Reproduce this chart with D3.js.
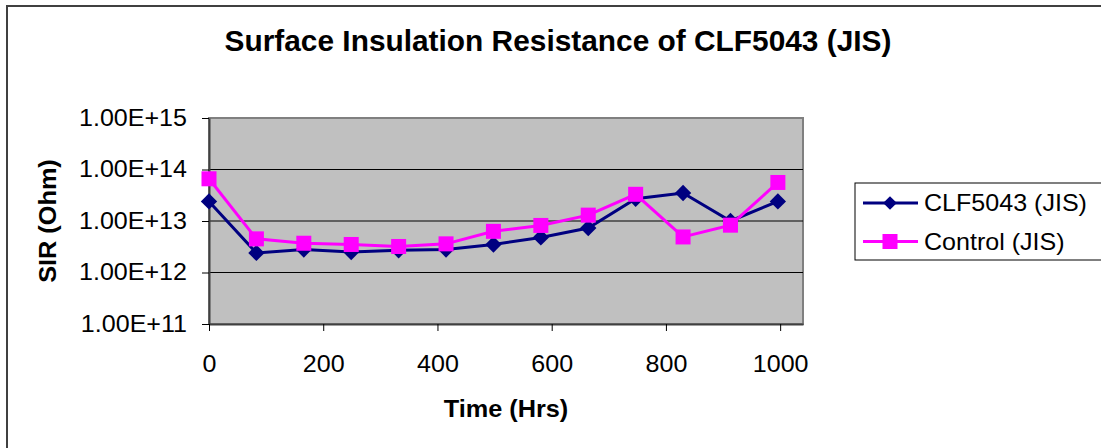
<!doctype html>
<html lang="en">
  <head>
    <meta charset="UTF-8" />
    <title>Surface Insulation Resistance of CLF5043 (JIS)</title>
    <script src="https://d3js.org/d3.v7.min.js"></script>
    <style>
      html,body{margin:0;padding:0;background:#fff;}
      svg{display:block;font-family:"Liberation Sans",Arial,Helvetica,sans-serif;}
    </style>
  </head>
  <body>
    <div id="chart"></div>
    <script>
      /* ───── data ───── */
      const hours   = [0, 83, 166, 249, 332, 415, 498, 581, 664, 747, 830, 913, 996];
      const clf5043 = [2.4e13, 2.4e12, 2.8e12, 2.5e12, 2.7e12, 2.8e12, 3.5e12, 4.8e12, 7.3e12, 2.7e13, 3.5e13, 1.0e13, 2.4e13];
      const control = [6.6e13, 4.5e12, 3.7e12, 3.5e12, 3.2e12, 3.6e12, 6.3e12, 8.2e12, 1.3e13, 3.3e13, 4.9e12, 8.3e12, 5.6e13];
      const xTicks  = [0, 200, 400, 600, 800, 1000];
      const yTicks  = [1e11, 1e12, 1e13, 1e14, 1e15];
      const seriesNames = ['CLF5043 (JIS)', 'Control (JIS)'];

      /* ───── geometry ───── */
      const W = 1101, H = 448;
      const plot = {left:209, right:803, top:118, bottom:324};
      const SX = 1.09;   // the original font runs a little wide

      const svg = d3.select('#chart').append('svg')
                    .attr('width', W).attr('height', H);

      // outer chart border (runs off the right / bottom edge)
      svg.append('rect')
         .attr('x', 7).attr('y', 6).attr('width', 1300).attr('height', 700)
         .attr('fill', '#fff').attr('stroke', '#404040').attr('stroke-width', 2);

      const x = d3.scaleLinear().domain([0, 1040]).range([plot.left, plot.right]);
      const y = d3.scaleLog().domain([1e11, 1e15]).range([plot.bottom, plot.top]);

      // stretch a text horizontally around its anchor
      function widen(sel, k = SX){
        sel.each(function(){
          const t = d3.select(this);
          const tx = +t.attr('x') || 0, ty = +t.attr('y') || 0;
          t.attr('x', 0).attr('y', 0)
           .attr('transform', `translate(${tx},${ty}) scale(${k},1)`);
        });
      }

      /* ───── plot area ───── */
      svg.append('rect')
         .attr('x', plot.left).attr('y', plot.top)
         .attr('width', plot.right - plot.left).attr('height', plot.bottom - plot.top)
         .attr('fill', '#c0c0c0').attr('stroke', '#808080').attr('stroke-width', 2);

      svg.append('g').selectAll('line')
         .data(yTicks.slice(1, -1)).join('line')
         .attr('x1', plot.left).attr('x2', plot.right)
         .attr('y1', d => y(d)).attr('y2', d => y(d))
         .attr('stroke', '#000').attr('stroke-width', 1);

      /* ───── axes ───── */
      const fmtE = d => '1.00E+' + Math.round(Math.log10(d));

      const gy = svg.append('g')
                    .attr('transform', `translate(${plot.left},0)`)
                    .call(d3.axisLeft(y).tickValues(yTicks).tickFormat(fmtE)
                            .tickSizeInner(7).tickSizeOuter(0).tickPadding(15));
      const gx = svg.append('g')
                    .attr('transform', `translate(0,${plot.bottom})`)
                    .call(d3.axisBottom(x).tickValues(xTicks).tickFormat(d3.format('d'))
                            .tickSizeInner(7).tickSizeOuter(0).tickPadding(25));

      [gx, gy].forEach(g => {
        g.select('.domain').attr('stroke', '#404040').attr('stroke-width', 2);
        g.selectAll('.tick line').attr('stroke', '#000');
        g.selectAll('.tick text').attr('fill', '#000')
         .style('font-size', '23px').call(widen);
      });

      /* ───── series ───── */
      const line = d3.line().x(d => x(d[0])).y(d => y(d[1]));
      const diamond = d3.symbol().type(d3.symbolDiamond2).size(170);

      const s1 = hours.map((h, i) => [h, clf5043[i]]);
      const s2 = hours.map((h, i) => [h, control[i]]);

      svg.append('path').attr('d', line(s1))
         .attr('fill', 'none').attr('stroke', '#000080').attr('stroke-width', 3);
      svg.append('g').selectAll('path').data(s1).join('path')
         .attr('transform', d => `translate(${x(d[0])},${y(d[1])})`)
         .attr('d', diamond).attr('fill', '#000080');

      svg.append('path').attr('d', line(s2))
         .attr('fill', 'none').attr('stroke', '#ff00ff').attr('stroke-width', 3);
      svg.append('g').selectAll('rect').data(s2).join('rect')
         .attr('x', d => x(d[0]) - 7.5).attr('y', d => y(d[1]) - 7.5)
         .attr('width', 15).attr('height', 15).attr('fill', '#ff00ff');

      /* ───── titles ───── */
      svg.append('text')
         .attr('x', 558).attr('y', 51).attr('text-anchor', 'middle')
         .style('font-size', '29px').style('font-weight', 'bold')
         .text('Surface Insulation Resistance of CLF5043 (JIS)').call(widen, 1.03);

      svg.append('text')
         .attr('x', 506).attr('y', 417).attr('text-anchor', 'middle')
         .style('font-size', '23px').style('font-weight', 'bold')
         .text('Time (Hrs)').call(widen, 1.1);

      svg.append('text')
         .attr('transform', `translate(56,221) rotate(-90) scale(1.1,1)`)
         .attr('text-anchor', 'middle')
         .style('font-size', '23px').style('font-weight', 'bold')
         .text('SIR (Ohm)');

      /* ───── legend ───── */
      const lg = svg.append('g');
      lg.append('rect')
        .attr('x', 855).attr('y', 183).attr('width', 400).attr('height', 77)
        .attr('fill', '#fff').attr('stroke', '#000').attr('stroke-width', 1);

      const rows = [203, 241.5];
      const legendDiamond = d3.symbol().type(d3.symbolDiamond2).size(120);

      lg.append('line').attr('x1', 863).attr('x2', 918).attr('y1', rows[0]).attr('y2', rows[0])
        .attr('stroke', '#000080').attr('stroke-width', 3);
      lg.append('path').attr('transform', `translate(890,${rows[0]})`)
        .attr('d', legendDiamond).attr('fill', '#000080');

      lg.append('line').attr('x1', 863).attr('x2', 918).attr('y1', rows[1]).attr('y2', rows[1])
        .attr('stroke', '#ff00ff').attr('stroke-width', 3);
      lg.append('rect').attr('x', 882.5).attr('y', rows[1] - 7.5)
        .attr('width', 15).attr('height', 15).attr('fill', '#ff00ff');

      lg.selectAll('text.lab').data(seriesNames).join('text')
        .attr('class', 'lab')
        .attr('x', 924).attr('y', (d, i) => rows[i] + 8)
        .style('font-size', '23px')
        .text(d => d).call(widen, 1.09);
    </script>
  </body>
</html>
